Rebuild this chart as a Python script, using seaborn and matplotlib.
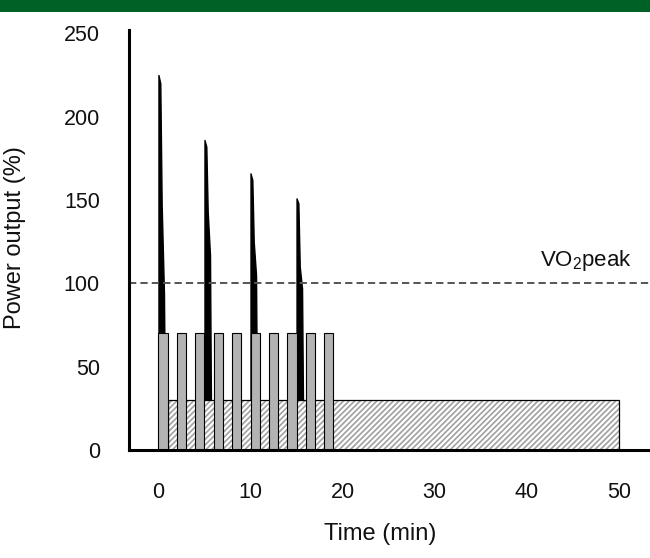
import matplotlib
matplotlib.use('Agg')
import matplotlib.pyplot as plt
from matplotlib.patches import Rectangle
import seaborn as sns

# sprint interval training: 4 all-out sprints (power profile, % of VO2peak power)
sprint_start = [0, 5, 10, 15]
spike_dt = [0.0, 0.2, 0.35, 0.6, 0.7]
sprint_power = [
    [225, 220, 147, 94, 30],
    [186, 182, 143, 117, 30],
    [166, 162, 125, 105, 30],
    [151, 148, 110, 97, 30],
]

# high-intensity intervals (1 min on, 1 min off)
interval_start = [0, 2, 4, 6, 8, 10, 12, 14, 16, 18]
interval_power = 70
interval_len = 1

# continuous moderate exercise
steady_start = 1
steady_end = 50
steady_power = 30

vo2peak = 100

x_ticks = [0, 10, 20, 30, 40, 50]
y_ticks = [0, 50, 100, 150, 200, 250]

sns.set_style('white')
plt.rcParams['font.family'] = ['Liberation Sans', 'DejaVu Sans']
plt.rcParams['mathtext.default'] = 'regular'
plt.rcParams['hatch.linewidth'] = 1.2

fig = plt.figure(figsize=(6.5, 5.58), dpi=100)
ax = fig.add_axes([129 / 650, 1 - 450 / 558, 521 / 650, 420 / 558])

# green band at the top
fig.patches.append(Rectangle((0, 1 - 12 / 558), 1, 12 / 558, transform=fig.transFigure,
                             facecolor='#006127', edgecolor='none'))

# sprint spikes
for s, p in zip(sprint_start, sprint_power):
    xs = [s + d for d in spike_dt]
    ax.fill_between(xs, p, 0, color='black', linewidth=1, zorder=1)

# steady-state block (hatched)
ax.bar(steady_start, steady_power, width=steady_end - steady_start, align='edge',
       facecolor='white', edgecolor='#a0a0a0', hatch='//////', linewidth=0, zorder=2)
ax.bar(steady_start, steady_power, width=steady_end - steady_start, align='edge',
       facecolor='none', edgecolor='black', linewidth=0.9, zorder=2.1)

# interval bars
ax.bar(interval_start, [interval_power] * len(interval_start), width=interval_len,
       align='edge', color='#b3b3b3', edgecolor='black', linewidth=0.8, zorder=3)

# VO2peak line
ax.axhline(vo2peak, color='#555555', linewidth=1.4, dashes=(3.75, 2.1), zorder=4)
ax.text(41.4, 110.4, 'VO$_2$peak', fontsize=16, ha='left', va='baseline', color='#111111')

ax.set_xlim(-3.2, 53.4)
ax.set_ylim(0, 252)
ax.set_xticks(x_ticks)
ax.set_yticks(y_ticks)
ax.tick_params(axis='both', length=0, labelsize=15.5, colors='#111111')
ax.tick_params(axis='x', pad=23)
ax.tick_params(axis='y', pad=21)

for side in ['top', 'right']:
    ax.spines[side].set_visible(False)
for side in ['left', 'bottom']:
    ax.spines[side].set_linewidth(2.2)
    ax.spines[side].set_color('black')
    ax.spines[side].set_zorder(5)

ax.set_xlabel('Time (min)', fontsize=17, color='#111111')
ax.set_ylabel('Power output (%)', fontsize=17, color='#111111')
ax.xaxis.set_label_coords(0.482, -0.174)
ax.yaxis.set_label_coords(-0.198, 0.505)

fig.savefig('out.png', dpi=100)
